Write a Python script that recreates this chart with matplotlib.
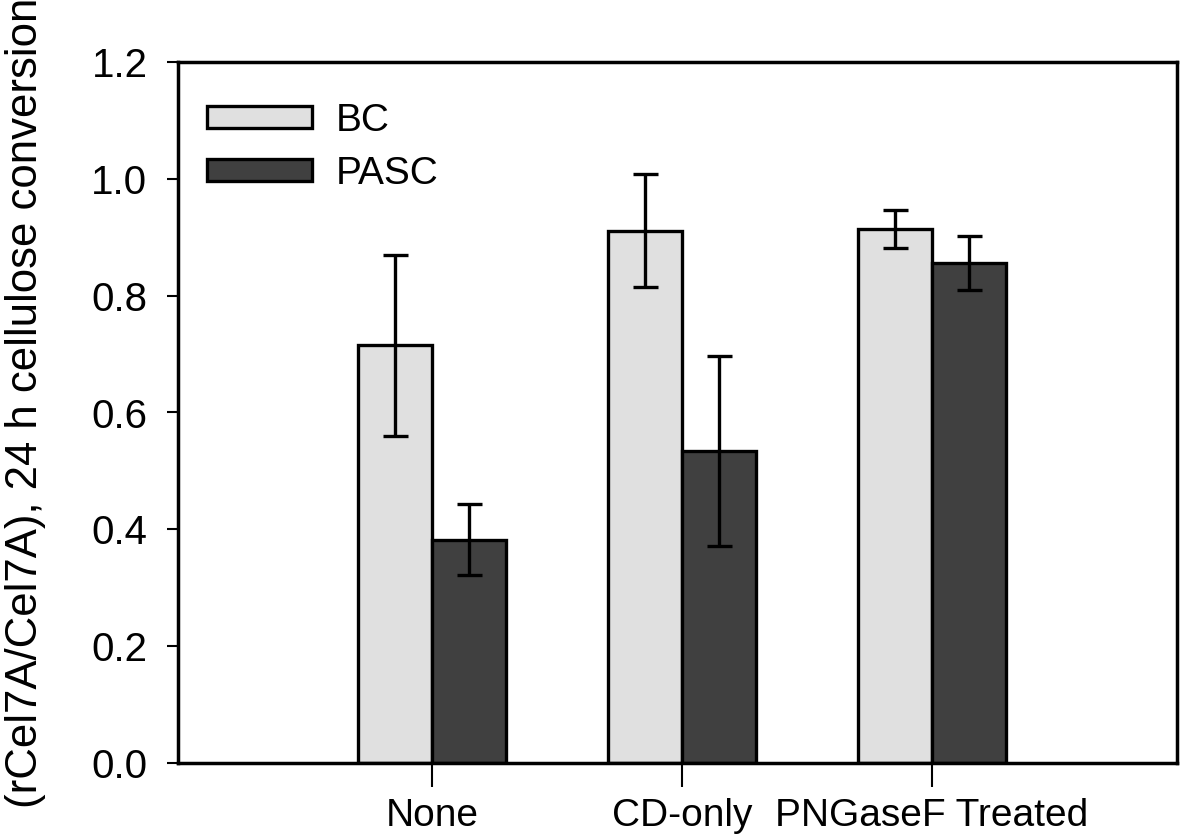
import numpy as np
import matplotlib
matplotlib.use("Agg")
import matplotlib.pyplot as plt

categories = ["None", "CD-only", "PNGaseF Treated"]
bc_values = [0.715, 0.911, 0.914]
bc_err = [0.155, 0.097, 0.032]
pasc_values = [0.382, 0.534, 0.856]
pasc_err = [0.061, 0.162, 0.046]

plt.rcParams['font.family'] = ['Liberation Sans', 'DejaVu Sans']

fig = plt.figure(figsize=(12, 8.38), dpi=100)
ax = fig.add_axes([178/1200, 1 - 763/838, (1177 - 178)/1200, (763 - 62)/838])

x = np.arange(1, len(categories) + 1)
w = 0.296
ax.bar(x - w/2, bc_values, w, color='#e0e0e0', edgecolor='black', linewidth=2.4, label='BC', zorder=2)
ax.bar(x + w/2, pasc_values, w, color='#404040', edgecolor='black', linewidth=2.4, label='PASC', zorder=2)
ax.errorbar(x - w/2, bc_values, yerr=bc_err, fmt='none', ecolor='black', elinewidth=2.4,
            capsize=9, capthick=2.4, zorder=3)
ax.errorbar(x + w/2, pasc_values, yerr=pasc_err, fmt='none', ecolor='black', elinewidth=2.4,
            capsize=9, capthick=2.4, zorder=3)

ax.set_xlim(-0.018, 3.982)
ax.set_ylim(0, 1.2)
ax.set_yticks(np.arange(0, 1.21, 0.2))
ax.set_yticklabels([f"{v:.1f}" for v in np.arange(0, 1.21, 0.2)], fontsize=29)
ax.set_xticks(x)
ax.set_xticklabels(categories, fontsize=28)
ax.tick_params(axis='y', direction='out', length=8, width=1.5, pad=14)
ax.tick_params(axis='x', direction='out', length=17, width=1.5, pad=8)
for s in ax.spines.values():
    s.set_linewidth(2.5)

ax.legend(loc='upper left', bbox_to_anchor=(-0.006, 0.992), frameon=False, fontsize=28,
          handlelength=2.7, handleheight=0.48, labelspacing=0.45, handletextpad=0.6)

fig.text(26/1200, 1 - 403/838, "(rCel7A/Cel7A), 24 h cellulose conversion", rotation=90,
         ha='center', va='center', fontsize=31.5)

fig.savefig("out.png", dpi=100)
